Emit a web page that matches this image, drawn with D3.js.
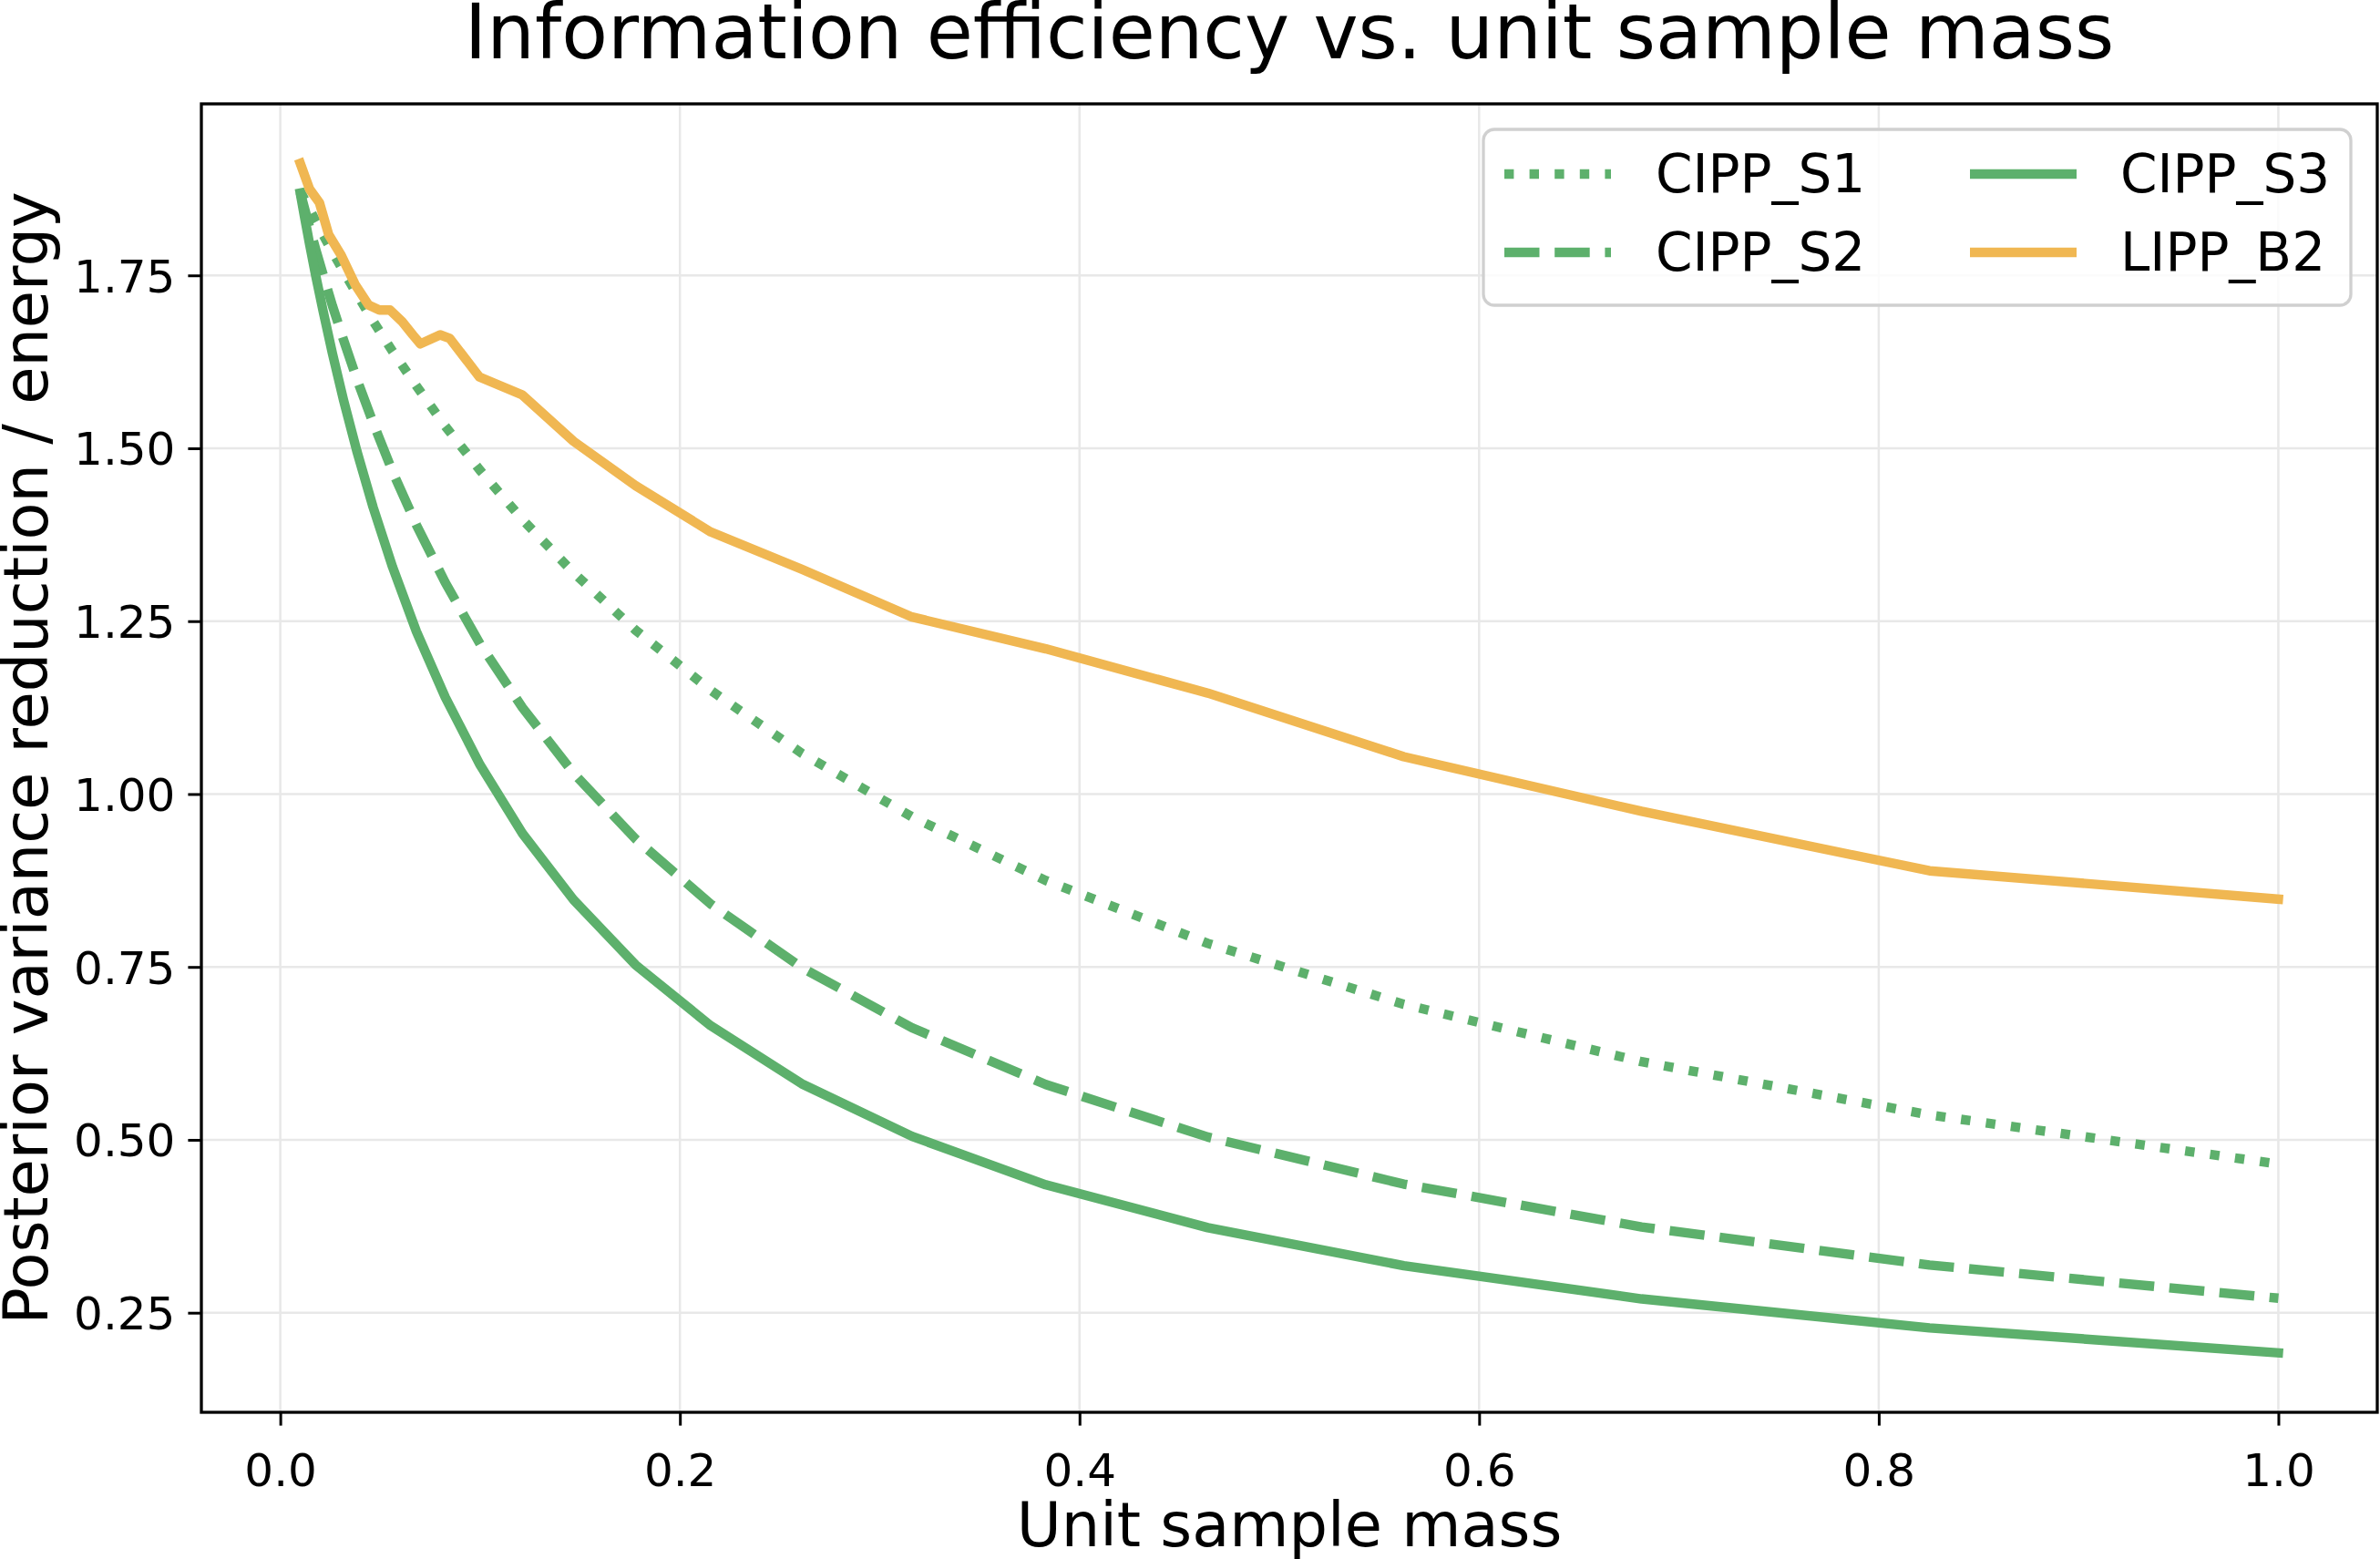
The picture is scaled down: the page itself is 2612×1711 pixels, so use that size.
<!DOCTYPE html>
<html>
<head>
<meta charset="utf-8">
<script src="https://cdn.jsdelivr.net/npm/d3@7"></script>
<style>
  html, body { margin: 0; padding: 0; background: #ffffff; }
  svg { display: block; font-family: "DejaVu Sans", sans-serif; }
</style>
</head>
<body>
<svg id="chart" width="2612" height="1711"></svg>
<script>
// ---- data ----
const massGrid = [0.01, 0.01212, 0.01468, 0.01778, 0.02154, 0.0261, 0.03162, 0.03831, 0.04642,
  0.05623, 0.06813, 0.08254, 0.1, 0.1212, 0.1468, 0.1778, 0.2154, 0.261, 0.3162, 0.3831,
  0.4642, 0.5623, 0.6813, 0.8254, 1.0];

const cippS1 = [1.872, 1.860, 1.846, 1.828, 1.808, 1.784, 1.756, 1.723, 1.684, 1.640, 1.590,
  1.532, 1.468, 1.397, 1.320, 1.237, 1.150, 1.059, 0.967, 0.875, 0.784, 0.696, 0.613, 0.536, 0.465];

const cippS2 = [1.870, 1.847, 1.819, 1.787, 1.750, 1.706, 1.657, 1.600, 1.537, 1.466, 1.389,
  1.306, 1.217, 1.125, 1.030, 0.935, 0.841, 0.749, 0.662, 0.580, 0.504, 0.436, 0.374, 0.319, 0.271];

const cippS3 = [1.869, 1.835, 1.795, 1.749, 1.697, 1.637, 1.570, 1.496, 1.415, 1.328, 1.235,
  1.140, 1.042, 0.943, 0.847, 0.753, 0.665, 0.581, 0.505, 0.435, 0.373, 0.318, 0.270, 0.228, 0.192];

const lippMass = [0.01, 0.0146, 0.0196, 0.0242, 0.0305, 0.0374, 0.0442, 0.0496, 0.0549, 0.0610,
  0.0663, 0.0701, 0.0800, 0.0848, 0.0997, 0.1212, 0.1468, 0.1778, 0.2154, 0.261, 0.3162,
  0.3831, 0.4642, 0.5623, 0.6813, 0.8254, 1.0];
const lippB2 = [1.912, 1.875, 1.855, 1.809, 1.779, 1.737, 1.707, 1.700, 1.700, 1.683,
  1.664, 1.651, 1.664, 1.659, 1.603, 1.577, 1.510, 1.446, 1.379, 1.325, 1.256,
  1.210, 1.146, 1.054, 0.975, 0.889, 0.848];

const xTicks = [0.0, 0.2, 0.4, 0.6, 0.8, 1.0];
const xTickLabels = ["0.0", "0.2", "0.4", "0.6", "0.8", "1.0"];
const yTicks = [0.25, 0.5, 0.75, 1.0, 1.25, 1.5, 1.75];
const yTickLabels = ["0.25", "0.50", "0.75", "1.00", "1.25", "1.50", "1.75"];

const seriesNames = ["CIPP_S1", "CIPP_S2", "CIPP_S3", "LIPP_B2"];

const titleText = "Information efficiency vs. unit sample mass";
const xLabelText = "Unit sample mass";
const yLabelText = "Posterior variance reduction / energy";

// ---- styles ----
const GREEN = "#5db06c";
const ORANGE = "#f0b752";
const LW = 10.4;
const styles = {
  CIPP_S1: { color: GREEN, dash: "10.4,17.2", cap: "butt" },
  CIPP_S2: { color: GREEN, dash: "38.5,16.7", cap: "butt" },
  CIPP_S3: { color: GREEN, dash: null, cap: "square" },
  LIPP_B2: { color: ORANGE, dash: null, cap: "square" }
};

const series = [
  { name: "CIPP_S1", xs: massGrid, ys: cippS1 },
  { name: "CIPP_S2", xs: massGrid, ys: cippS2 },
  { name: "CIPP_S3", xs: massGrid, ys: cippS3 },
  { name: "LIPP_B2", xs: lippMass, ys: lippB2 }
];

// ---- layout ----
const M = { left: 221, right: 2609, top: 114, bottom: 1550 };
const svg = d3.select("#chart");

const allX = series.flatMap(s => s.xs);
const allY = series.flatMap(s => s.ys);
const [x0, x1] = d3.extent(allX);
const [y0, y1] = d3.extent(allY);
const px = (x1 - x0) * 0.05, py = (y1 - y0) * 0.05;

const x = d3.scaleLinear().domain([x0 - px, x1 + px]).range([M.left, M.right]);
const y = d3.scaleLinear().domain([y0 - py, y1 + py]).range([M.bottom, M.top]);

svg.append("rect").attr("width", 2612).attr("height", 1711).attr("fill", "#fff");

// grid
const grid = svg.append("g").attr("stroke", "#e8e8e8").attr("stroke-width", 2.5);
grid.selectAll(".gx").data(xTicks).join("line")
  .attr("x1", d => x(d)).attr("x2", d => x(d))
  .attr("y1", M.top).attr("y2", M.bottom);
grid.selectAll(".gy").data(yTicks).join("line")
  .attr("x1", M.left).attr("x2", M.right)
  .attr("y1", d => y(d)).attr("y2", d => y(d));

// clip
svg.append("clipPath").attr("id", "clip").append("rect")
  .attr("x", M.left).attr("y", M.top)
  .attr("width", M.right - M.left).attr("height", M.bottom - M.top);

// lines
const lineGen = d3.line().x(d => x(d[0])).y(d => y(d[1]));
const lines = svg.append("g").attr("clip-path", "url(#clip)");
series.forEach(s => {
  const st = styles[s.name];
  const pts = s.xs.map((v, i) => [v, s.ys[i]]);
  lines.append("path")
    .attr("d", lineGen(pts))
    .attr("fill", "none")
    .attr("stroke", st.color)
    .attr("stroke-width", LW)
    .attr("stroke-linejoin", "round")
    .attr("stroke-linecap", st.cap)
    .attr("stroke-dasharray", st.dash);
});

// axes
const xAxis = d3.axisBottom(x).tickValues(xTicks)
  .tickFormat((d, i) => xTickLabels[i]).tickSize(14.6).tickPadding(14);
const yAxis = d3.axisLeft(y).tickValues(yTicks)
  .tickFormat((d, i) => yTickLabels[i]).tickSize(14.6).tickPadding(14);

const gx = svg.append("g").attr("transform", `translate(0,${M.bottom})`).call(xAxis);
const gy = svg.append("g").attr("transform", `translate(${M.left},0)`).call(yAxis);
[gx, gy].forEach(g => {
  g.select(".domain").remove();
  g.selectAll(".tick line").attr("stroke", "#000").attr("stroke-width", 3);
  g.selectAll(".tick text").attr("fill", "#000")
    .style("font-family", "DejaVu Sans").style("font-size", "50px");
});
gx.selectAll(".tick text").attr("dy", null).attr("y", 81);
gy.selectAll(".tick text").attr("dy", "0.36em");

// frame
svg.append("rect")
  .attr("x", M.left).attr("y", M.top)
  .attr("width", M.right - M.left).attr("height", M.bottom - M.top)
  .attr("fill", "none").attr("stroke", "#000").attr("stroke-width", 3.3);

// title & labels
const cx = (M.left + M.right) / 2;
svg.append("text").attr("x", cx).attr("y", 64)
  .attr("text-anchor", "middle").style("font-size", "83px").attr("fill", "#000")
  .text(titleText);
svg.append("text").attr("x", cx).attr("y", 1697)
  .attr("text-anchor", "middle").style("font-size", "67px").attr("fill", "#000")
  .text(xLabelText);
svg.append("text")
  .attr("transform", `translate(52,${(M.top + M.bottom) / 2}) rotate(-90)`)
  .attr("text-anchor", "middle").style("font-size", "67px").attr("fill", "#000")
  .text(yLabelText);

// legend
const leg = svg.append("g");
leg.append("rect")
  .attr("x", 1628).attr("y", 142).attr("width", 952).attr("height", 193)
  .attr("rx", 12).attr("ry", 12)
  .attr("fill", "#fff").attr("fill-opacity", 0.8)
  .attr("stroke", "#d0d0d0").attr("stroke-width", 3.3);

const legPos = [
  { hx: 1651, tx: 1817, ly: 191, ty: 211 },
  { hx: 1651, tx: 1817, ly: 277, ty: 297 },
  { hx: 2162, tx: 2327, ly: 191, ty: 211 },
  { hx: 2162, tx: 2327, ly: 277, ty: 297 }
];
seriesNames.forEach((name, i) => {
  const st = styles[name], p = legPos[i];
  leg.append("line")
    .attr("x1", p.hx).attr("x2", p.hx + 117)
    .attr("y1", p.ly).attr("y2", p.ly)
    .attr("stroke", st.color).attr("stroke-width", LW)
    .attr("stroke-linecap", "butt")
    .attr("stroke-dasharray", st.dash);
  leg.append("text").attr("x", p.tx).attr("y", p.ty)
    .style("font-size", "58px").attr("fill", "#000").text(name);
});
</script>
</body>
</html>
